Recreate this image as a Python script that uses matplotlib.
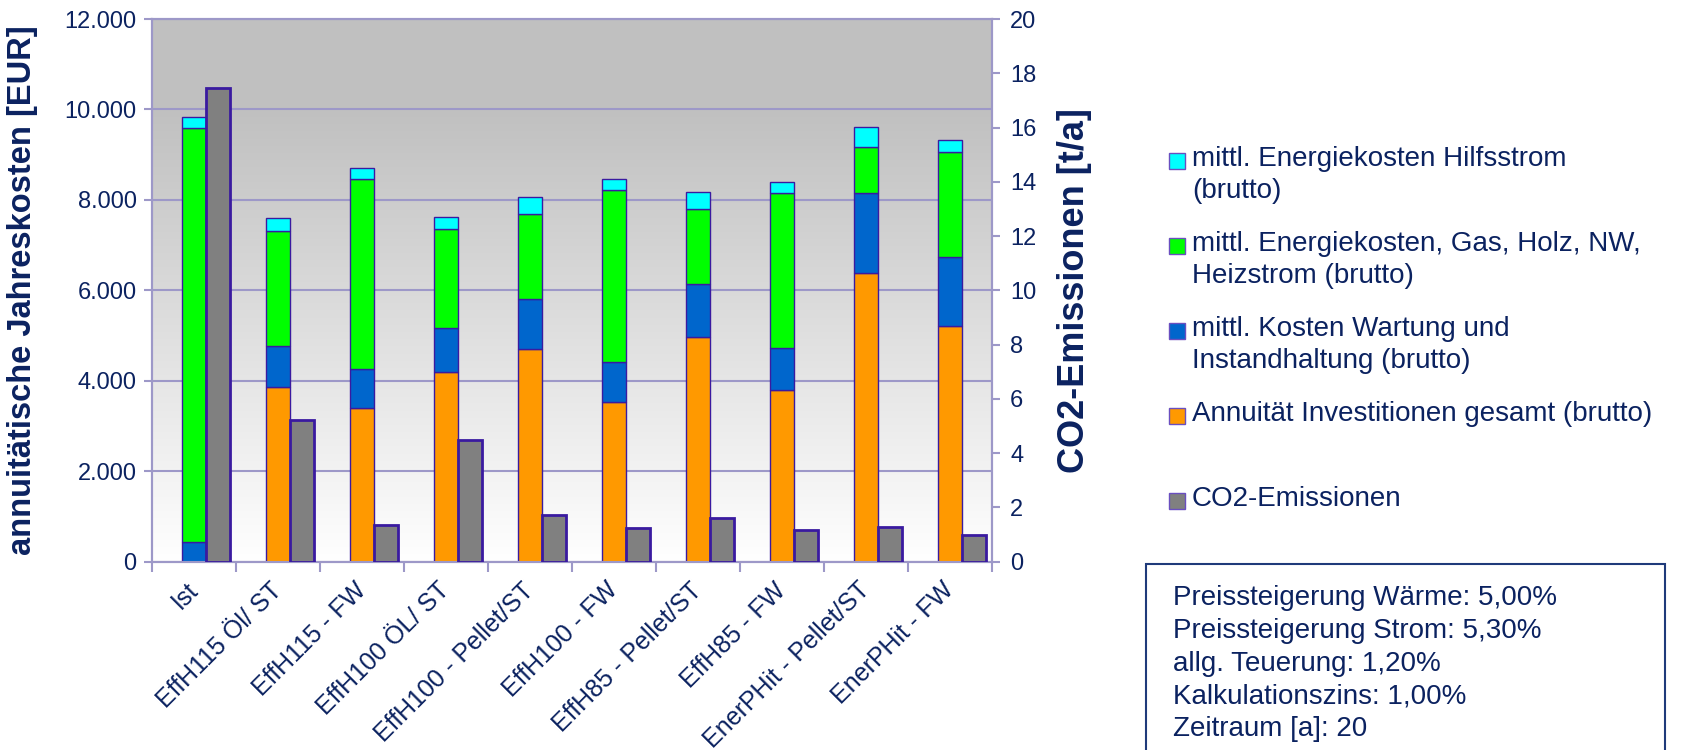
import numpy as np
import matplotlib
matplotlib.use("Agg")
from matplotlib import pyplot as plt
from matplotlib.patches import Rectangle

plt.rcParams['font.family'] = ['Liberation Sans', 'DejaVu Sans']

categories = ["Ist", "EffH115 Öl/ ST", "EffH115 - FW", "EffH100 ÖL/ ST",
              "EffH100 - Pellet/ST", "EffH100 - FW", "EffH85 - Pellet/ST",
              "EffH85 - FW", "EnerPHit - Pellet/ST", "EnerPHit - FW"]

# EUR per year, stacked from bottom to top
annuitaet = [0, 3860, 3385, 4195, 4705, 3525, 4970, 3800, 6380, 5200]
wartung = [430, 915, 875, 965, 1110, 880, 1165, 925, 1780, 1545]
energie = [9170, 2535, 4210, 2195, 1865, 3815, 1655, 3420, 1005, 2310]
hilfsstrom = [230, 295, 240, 265, 390, 230, 375, 260, 450, 275]

# t/a
co2 = [17.45, 5.2, 1.34, 4.49, 1.72, 1.25, 1.59, 1.17, 1.29, 0.96]

labels = ["mittl. Energiekosten Hilfsstrom\n(brutto)",
          "mittl. Energiekosten, Gas, Holz, NW,\nHeizstrom (brutto)",
          "mittl. Kosten Wartung und\nInstandhaltung (brutto)",
          "Annuität Investitionen gesamt (brutto)",
          "CO2-Emissionen"]
colors = ["#00ffff", "#00ff00", "#0066cc", "#ff9900", "#808080"]

info = ["Preissteigerung Wärme: 5,00%", "Preissteigerung Strom: 5,30%",
        "allg. Teuerung: 1,20%", "Kalkulationszins: 1,00%", "Zeitraum [a]: 20"]

navy = "#0b2260"
lav = "#9d98c8"
edge = "#3a1aa0"

W, H = 1688, 750
fig = plt.figure(figsize=(W / 100, H / 100), dpi=100)
ax = fig.add_axes([152 / W, 1 - 561.5 / H, 840 / W, 542.5 / H])

# background gradient
grad = np.clip(np.linspace(0, 1.2, 300), 0, 1)
c_top = np.array([0.753, 0.753, 0.753])
c_bot = np.array([1.0, 1.0, 1.0])
img = c_bot + (c_top - c_bot) * grad[:, None]
ax.imshow(img[:, None, :], extent=[0, 10, 0, 12000], origin="lower",
          aspect="auto", zorder=0)

x = np.arange(len(categories))
bw = 0.285
bottom = np.zeros(len(categories))
for vals, col in zip([annuitaet, wartung, energie, hilfsstrom],
                     [colors[3], colors[2], colors[1], colors[0]]):
    ax.bar(x + 0.36, vals, bw, bottom=bottom, align="edge", color=col,
           edgecolor=edge, linewidth=1, zorder=3)
    bottom += np.array(vals)

ax.set_xlim(0, 10)
ax.set_ylim(0, 12000)
ax.set_yticks(range(0, 12001, 2000))
ax.set_yticklabels([f"{v:,}".replace(",", ".") for v in range(0, 12001, 2000)])
ax.grid(axis="y", color=lav, linewidth=1.5, zorder=1)
ax.set_xticks(range(0, 11))
ax.set_xticklabels([])
ax.set_xticks(x + 0.5, minor=True)
ax.set_xticklabels(categories, minor=True, rotation=45, ha="right",
                   va="center", rotation_mode="anchor", fontsize=18, color=navy)
ax.tick_params(axis="x", which="minor", length=0, pad=18)
ax.tick_params(axis="x", which="major", length=7, width=1.5, color=lav)
ax.tick_params(axis="y", length=6, width=1.5, color=lav, labelsize=17,
               labelcolor=navy, pad=5)
for s in ax.spines.values():
    s.set_color(lav)
    s.set_linewidth(1.5)
ax.set_ylabel("annuitätische Jahreskosten [EUR]", fontsize=23.5,
              fontweight="bold", color=navy)
ax.yaxis.set_label_coords(-0.136, 0.5)

ax2 = ax.twinx()
ax2.bar(x + 0.645, co2, bw, align="edge", color=colors[4], edgecolor=edge,
        linewidth=2, zorder=3)
ax2.set_ylim(0, 20)
ax2.set_yticks(range(0, 21, 2))
ax2.tick_params(axis="y", length=6, width=1.5, color=lav, labelsize=17,
                labelcolor=navy, pad=7)
for s in ax2.spines.values():
    s.set_color(lav)
    s.set_linewidth(1.5)
ax2.set_ylabel("CO2-Emissionen [t/a]", fontsize=26, fontweight="bold",
               color=navy)
ax2.yaxis.set_label_coords(1.077, 0.5)

# legend
for i, (lab, col) in enumerate(zip(labels, colors)):
    yc = 161 + 85 * i
    fig.patches.append(Rectangle((1169 / W, 1 - (yc + 8) / H), 16 / W, 16 / H,
                                 transform=fig.transFigure, facecolor=col,
                                 edgecolor="#6a4fc0", linewidth=1))
    fig.text(1192 / W, 1 - (yc - 15) / H, lab, fontsize=20, color=navy,
             va="top", ha="left", linespacing=1.3)

# info box
fig.patches.append(Rectangle((1146 / W, -0.05), (1665 - 1146) / W,
                             1.05 - 564 / H, transform=fig.transFigure,
                             facecolor="white", edgecolor="#1f3a7a",
                             linewidth=1.5))
fig.text(1173 / W, 1 - 585 / H, "\n".join(info), fontsize=20, color=navy,
         va="top", ha="left", linespacing=1.34)

fig.savefig("out.png", dpi=100)
